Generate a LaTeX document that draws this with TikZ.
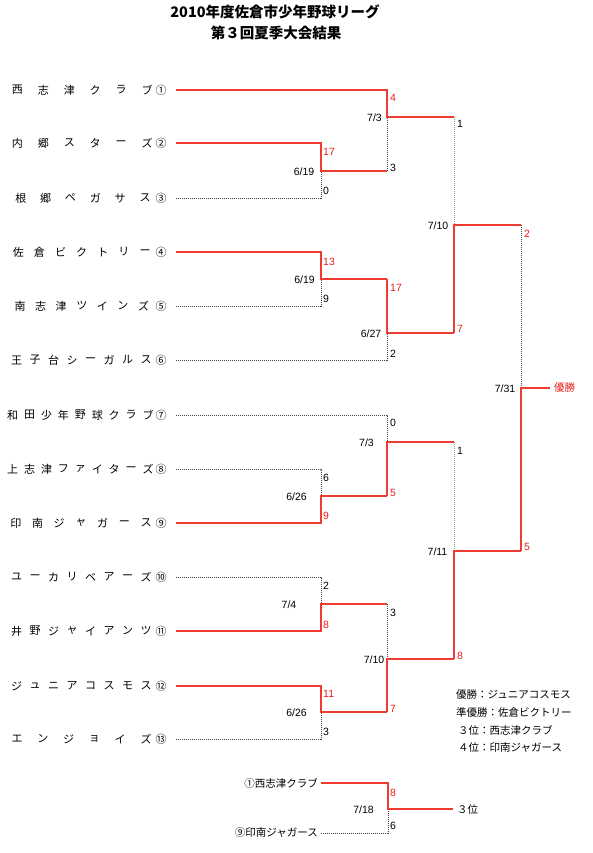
\documentclass[tikz,border=0pt]{standalone}
\usepackage{fontspec}
\setmainfont{Liberation Sans}
\newfontfamily\jp{Noto Sans CJK JP}
\definecolor{lred}{RGB}{238,60,50}
\definecolor{tred}{RGB}{232,32,26}
\tikzset{
  win/.style={draw=lred, line width=1.2pt},
  lose/.style={draw=black!75, line width=0.6pt, dash pattern=on 1pt off 1pt},
  lgray/.style={draw=black!40, line width=0.6pt, dash pattern=on 1pt off 1pt},
  jpn/.style={font=\jp\fontsize{10.5}{12}\selectfont, inner sep=0pt},
  nm/.style={font=\jp\fontsize{11}{12}\selectfont, inner sep=0pt},
  num/.style={font=\fontsize{10.5}{12}\selectfont, inner sep=0pt, text height=7.6pt, text depth=0pt},
  sc/.style={num, anchor=west},
  rsc/.style={num, anchor=west, text=tred},
  ttl/.style={font=\jp\bfseries\fontsize{14.5}{16}\selectfont, inner sep=0pt}
}
\newcommand\tname[7]{%
  \foreach \ch [count=\k] in {#6}{\node[nm] (tn#1-\k) at ({#3+(\k-1)*(#4-#3)/(#5-1)},#2) {\ch};}
  \node[nm] (tc#1) at (161,#2) {#7};
}
\begin{document}
\begin{tikzpicture}[x=1pt,y=-1pt]
\useasboundingbox (0,0) rectangle (593,853);
% title
\node[ttl] (title1) at (275,12) {2010年度佐倉市少年野球リーグ};
\node[ttl] (title2) at (276,33) {第３回夏季大会結果};
% team names
\tname{1}{90}{17.5}{147}{6}{西,志,津,ク,ラ,ブ}{①}
\tname{2}{143}{17.5}{147}{6}{内,郷,ス,タ,ー,ズ}{②}
\tname{3}{198}{20.8}{145}{6}{根,郷,ペ,ガ,サ,ス}{③}
\tname{4}{252}{18.3}{145}{7}{佐,倉,ビ,ク,ト,リ,ー}{④}
\tname{5}{306}{20}{143.5}{7}{南,志,津,ツ,イ,ン,ズ}{⑤}
\tname{6}{360}{16.7}{146}{8}{王,子,台,シ,ー,ガ,ル,ス}{⑥}
\tname{7}{415}{12.7}{148}{9}{和,田,少,年,野,球,ク,ラ,ブ}{⑦}
\tname{8}{469}{12.7}{148}{9}{上,志,津,フ,ァ,イ,タ,ー,ズ}{⑧}
\tname{9}{523}{15.8}{146}{7}{印,南,ジ,ャ,ガ,ー,ス}{⑨}
\tname{10}{577}{16.7}{146}{8}{ユ,ー,カ,リ,ベ,ア,ー,ズ}{⑩}
\tname{11}{631}{16.7}{146}{8}{井,野,ジ,ャ,イ,ア,ン,ツ}{⑪}
\tname{12}{686}{16.7}{146}{8}{ジ,ュ,ニ,ア,コ,ス,モ,ス}{⑫}
\tname{13}{739}{17}{146}{6}{エ,ン,ジ,ョ,イ,ズ}{⑬}
% coordinates
\coordinate (t1) at (176,90);
\coordinate (t2) at (176,143);
\coordinate (t3) at (176,198);
\coordinate (t4) at (176,252);
\coordinate (t5) at (176,306);
\coordinate (t6) at (176,360);
\coordinate (t7) at (176,415);
\coordinate (t8) at (176,469);
\coordinate (t9) at (176,523);
\coordinate (t10) at (176,577);
\coordinate (t11) at (176,631);
\coordinate (t12) at (176,686);
\coordinate (t13) at (176,739);
\coordinate (A) at (321,171);
\coordinate (B) at (387,117);
\coordinate (C) at (321,279);
\coordinate (D) at (387,333);
\coordinate (E) at (454,225);
\coordinate (W) at (521,388);
\coordinate (fin) at (550,388);
\coordinate (F) at (321,496);
\coordinate (G) at (387,442);
\coordinate (H) at (321,604);
\coordinate (I) at (321,712);
\coordinate (J) at (387,659);
\coordinate (K) at (454,551);
% losing paths
\draw[lose] (t3) -| (A);
\draw[lose] (A -| B) -- (B);
\draw[lose] (t5) -| (C);
\draw[lose] (t6) -| (D);
\draw[lgray] (B -| E) -- (E);
\draw[lose] (E -| W) -- (W);
\draw[lose] (t8) -| (F);
\draw[lose] (t7) -| (G);
\draw[lose] (t10) -| (H);
\draw[lose] (t13) -| (I);
\draw[lose] (H -| J) -- (J);
\draw[lgray] (G -| K) -- (K);
% winning paths
\draw[win] (t2) -| (A) -- (A -| B);
\draw[win] (t1) -| (B) -- (B -| E);
\draw[win] (t4) -| (C) -- (C -| D);
\draw[win] (C -| D) -- (D) -- (D -| E);
\draw[win] (D -| E) -- (E) -- (E -| W);
\draw[win] (t9) -| (F) -- (F -| G);
\draw[win] (F -| G) -- (G) -- (G -| K);
\draw[win] (t11) -| (H) -- (H -| J);
\draw[win] (t12) -| (I) -- (I -| J);
\draw[win] (I -| J) -- (J) -- (J -| K);
\draw[win] (J -| K) -- (K) -- (K -| W);
\draw[win] (K -| W) -- (W) -- (fin);
\node[jpn, anchor=west, text=tred] (champ) at (554,388) {優勝};
% dates
\node[num] (d1) at (374.5,118) {7/3};
\node[num] (d2) at (304,172) {6/19};
\node[num] (d3) at (304.5,280) {6/19};
\node[num] (d4) at (371,334) {6/27};
\node[num] (d5) at (438,226) {7/10};
\node[num] (d6) at (505,389) {7/31};
\node[num] (d7) at (366.5,443) {7/3};
\node[num] (d8) at (296.5,497) {6/26};
\node[num] (d9) at (289,605) {7/4};
\node[num] (d10) at (374,660) {7/10};
\node[num] (d11) at (437.5,552) {7/11};
\node[num] (d12) at (296.5,713) {6/26};
\node[num] (d13) at (363.5,810) {7/18};
% scores
\node[rsc] (s1) at (323,152) {17};
\node[sc] (s2) at (323,191) {0};
\node[rsc] (s3) at (390,98) {4};
\node[sc] (s4) at (390,168) {3};
\node[rsc] (s5) at (323,262) {13};
\node[sc] (s6) at (323,299) {9};
\node[rsc] (s7) at (390,288) {17};
\node[sc] (s8) at (390,354) {2};
\node[sc] (s9) at (457,124) {1};
\node[rsc] (s10) at (457,329) {7};
\node[rsc] (s11) at (524,234) {2};
\node[rsc] (s12) at (524,547) {5};
\node[sc] (s13) at (323,478) {6};
\node[rsc] (s14) at (323,516) {9};
\node[sc] (s15) at (390,423) {0};
\node[rsc] (s16) at (390,493) {5};
\node[sc] (s17) at (323,586) {2};
\node[rsc] (s18) at (323,625) {8};
\node[rsc] (s19) at (323,694) {11};
\node[sc] (s20) at (323,732) {3};
\node[sc] (s21) at (390,613) {3};
\node[rsc] (s22) at (390,709) {7};
\node[sc] (s23) at (457,451) {1};
\node[rsc] (s24) at (457,656) {8};
% legend
\node[jpn, anchor=west] (lg1) at (456,695) {優勝：ジュニアコスモス};
\node[jpn, anchor=west] (lg2) at (456,712.5) {準優勝：佐倉ビクトリー};
\node[jpn, anchor=west] (lg3) at (458,730) {３位：西志津クラブ};
\node[jpn, anchor=west] (lg4) at (458,748) {４位：印南ジャガース};
% third place match
\node[jpn, anchor=east] (p1) at (318,783) {①西志津クラブ};
\node[jpn, anchor=east] (p2) at (318,833) {⑨印南ジャガース};
\coordinate (q1) at (321,783);
\coordinate (q2) at (321,833);
\coordinate (Q) at (388,809);
\coordinate (q3) at (453,809);
\draw[lose] (q2) -| (Q);
\draw[win] (q1) -| (Q) -- (q3);
\node[jpn, anchor=west] (third) at (457,809) {３位};
\node[rsc] (s25) at (390,793) {8};
\node[sc] (s26) at (390,826) {6};
\end{tikzpicture}
\end{document}
